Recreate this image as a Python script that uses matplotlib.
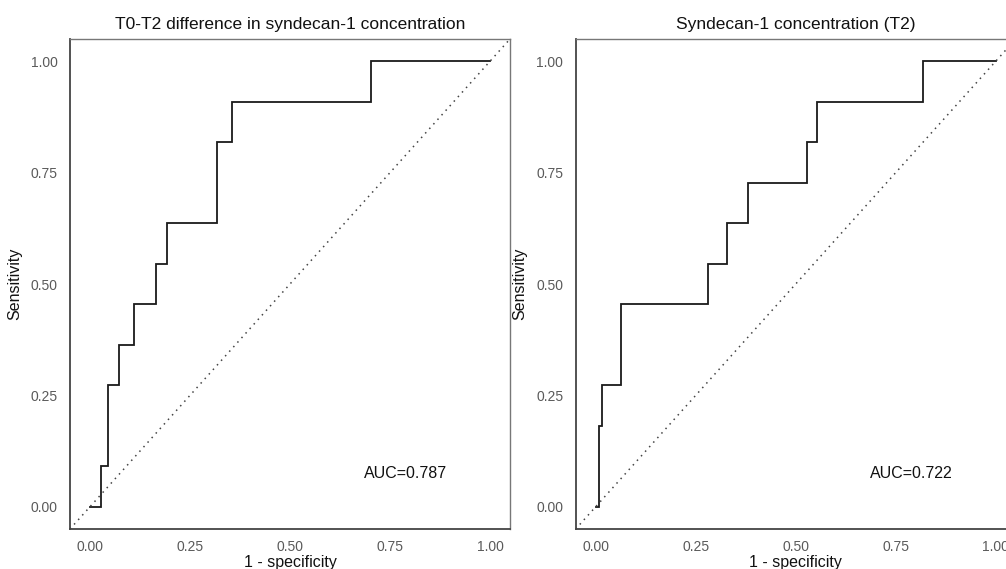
import matplotlib
matplotlib.use("Agg")
import matplotlib.pyplot as plt

plt.rcParams['font.family'] = ['Liberation Sans', 'DejaVu Sans']

# Left panel: T0-T2 difference ROC (step vertices)
left_fpr = [0.0, 0.0275, 0.0275, 0.0458, 0.0458, 0.0733, 0.0733, 0.111, 0.111, 0.164, 0.164,
            0.192, 0.192, 0.318, 0.318, 0.355, 0.355, 0.702, 0.702, 1.0]
left_tpr = [0.0, 0.0, 1/11, 1/11, 3/11, 3/11, 4/11, 4/11, 5/11, 5/11, 6/11,
            6/11, 7/11, 7/11, 9/11, 9/11, 10/11, 10/11, 1.0, 1.0]
left_title = "T0-T2 difference in syndecan-1 concentration"
left_auc = "AUC=0.787"

# Right panel: T2 concentration ROC
right_fpr = [0.0, 0.0083, 0.0083, 0.0167, 0.0167, 0.0633, 0.0633, 0.281, 0.281, 0.327, 0.327,
             0.38, 0.38, 0.527, 0.527, 0.553, 0.553, 0.817, 0.817, 1.0]
right_tpr = [0.0, 0.0, 2/11, 2/11, 3/11, 3/11, 5/11, 5/11, 6/11, 6/11, 7/11,
             7/11, 8/11, 8/11, 9/11, 9/11, 10/11, 10/11, 1.0, 1.0]
right_title = "Syndecan-1 concentration (T2)"
right_auc = "AUC=0.722"

ticks = [0.0, 0.25, 0.5, 0.75, 1.0]
tick_labels = ["0.00", "0.25", "0.50", "0.75", "1.00"]

W, H = 1006, 569
fig = plt.figure(figsize=(W / 100, H / 100), dpi=100)

panels = [
    (70, left_fpr, left_tpr, left_title, left_auc),
    (575.7, right_fpr, right_tpr, right_title, right_auc),
]
for x0, fpr, tpr, title, auc in panels:
    ax = fig.add_axes([x0 / W, 40 / H, 440 / W, 490 / H])
    ax.plot(fpr, tpr, color="#1a1a1a", lw=1.3, solid_joinstyle="miter")
    ax.axline((0, 0), slope=1, color="#444444", lw=1.1, linestyle=(0, (1, 3.0)))
    ax.set_xlim(-0.05, 1.05)
    ax.set_ylim(-0.05, 1.05)
    ax.set_xticks(ticks)
    ax.set_xticklabels(tick_labels)
    ax.set_yticks(ticks)
    ax.set_yticklabels(tick_labels)
    ax.tick_params(length=0, labelsize=10, labelcolor="#5a5a5a")
    ax.tick_params(axis="x", pad=8)
    ax.tick_params(axis="y", pad=9)
    for s in ["top", "right"]:
        ax.spines[s].set_color("#777777")
        ax.spines[s].set_linewidth(1.0)
    for s in ["left", "bottom"]:
        ax.spines[s].set_color("#444444")
        ax.spines[s].set_linewidth(1.3)
    ax.set_title(title, fontsize=12.5, color="#111111", pad=7)
    ax.set_xlabel("1 - specificity", fontsize=11.5, color="#111111", labelpad=1)
    ax.set_ylabel("Sensitivity", fontsize=11.5, color="#111111", labelpad=6)
    ax.text(0.79, 0.075, auc, fontsize=11.5, ha="center", va="center", color="#111111")

fig.savefig("out.png", dpi=100)
